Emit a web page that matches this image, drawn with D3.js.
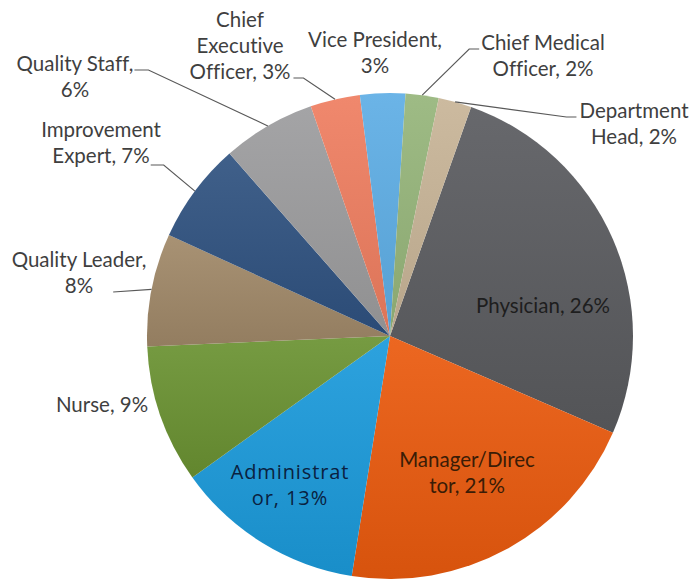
<!DOCTYPE html>
<html>
<head>
<meta charset="utf-8">
<script src="https://cdn.jsdelivr.net/npm/d3@7"></script>
<style>
  body { margin: 0; background: #fff; }
  svg { display: block; }
  .lbl { font-family: Lato, "Open Sans", sans-serif; font-size: 20.5px; fill: #3f3f3f; font-variant-ligatures: none; }
</style>
</head>
<body>
<div id="chart"></div>
<script>
// slices, clockwise from the top
const categories = ["Physician", "Manager/Director", "Administrator", "Nurse", "Quality Leader",
  "Improvement Expert", "Quality Staff", "Chief Executive Officer", "Vice President",
  "Chief Medical Officer", "Department Head"];
const values = [26.1, 21.0, 12.6, 9.2, 7.5, 6.7, 6.2, 3.3, 3.0, 2.2, 2.2];
const shownPct = [26, 21, 13, 9, 8, 7, 6, 3, 3, 2, 2];
const colors = ["#5a5b5f", "#ea5a0e", "#1b9adb", "#6a9232", "#a08868", "#2f5280",
  "#9c9c9e", "#ef7e60", "#5eaee5", "#96b57a", "#c8b497"];

const width = 691, height = 584;
const cx = 390, cy = 336, r = 243;
const startDeg = 19.5;

// label layout: offsets from pie center, line breaks, leader attach
const layout = {
  "Physician":               { x: 153, y: -23, breaks: [], inside: true, fill: "#1e1e1e" },
  "Manager/Director":        { x: 77, y: 131, breaks: [13], inside: true, fill: "#3a1c06" },
  "Administrator":           { x: -100, y: 143, breaks: [11], inside: true, fill: "#0a2140", big: true },
  "Nurse":                   { x: -288, y: 76, breaks: [] },
  "Quality Leader":          { x: -311, y: -69, breaks: [15], leader: { line: 1, side: "right", gap: 20, dy: -1, elbow: 0 } },
  "Improvement Expert":      { x: -289, y: -199, breaks: [11], leader: { line: 1, side: "right", gap: 1, dy: 2, elbow: 13 } },
  "Quality Staff":           { x: -315, y: -265, breaks: [14], leader: { line: 0, side: "right", gap: 1, dy: -1, elbow: 14 } },
  "Chief Executive Officer": { x: -150, y: -309, breaks: [5, 15], leader: { line: 2, side: "right", gap: 3, dy: -1, elbow: 10 } },
  "Vice President":          { x: -15, y: -289, breaks: [15] },
  "Chief Medical Officer":   { x: 153, y: -286, breaks: [13], leader: { line: 0, side: "left", gap: 2, dy: -1, elbow: 10 } },
  "Department Head":         { x: 244, y: -218, breaks: [10], leader: { line: 0, side: "left", gap: 3, dy: -1, elbow: 10 } }
};
const lineH = 26;

const data = categories.map((c, i) => ({ name: c, value: values[i], pct: shownPct[i], color: colors[i] }));

const svg = d3.select("#chart").append("svg")
  .attr("width", width).attr("height", height);

const defs = svg.append("defs");
data.forEach((d, i) => {
  const g = defs.append("linearGradient").attr("id", "grad" + i)
    .attr("x1", 0).attr("y1", 0).attr("x2", 0).attr("y2", 1);
  g.append("stop").attr("offset", "0%").attr("stop-color", d3.interpolateRgb(d.color, "#fff")(0.08));
  g.append("stop").attr("offset", "100%").attr("stop-color", d3.interpolateRgb(d.color, "#000")(0.08));
});

const rad = startDeg * Math.PI / 180;
const pie = d3.pie().value(d => d.value).sort(null)
  .startAngle(rad).endAngle(rad + 2 * Math.PI);
const arcs = pie(data);
const arc = d3.arc().innerRadius(0).outerRadius(r);

const g = svg.append("g").attr("transform", `translate(${cx},${cy})`);

g.selectAll("path.slice")
  .data(arcs)
  .join("path")
  .attr("class", "slice")
  .attr("d", arc)
  .attr("fill", (d, i) => `url(#grad${i})`);

// labels
const labels = g.append("g");
arcs.forEach(a => {
  const d = a.data;
  const L = layout[d.name];
  const full = `${d.name}, ${d.pct}%`;
  const cuts = [0, ...L.breaks, full.length];
  const lines = d3.pairs(cuts).map(([s, e]) => full.slice(s, e).trim());

  const t = labels.append("text")
    .attr("class", "lbl")
    .attr("text-anchor", "middle")
    .attr("x", L.x).attr("y", L.y);
  if (L.fill) t.style("fill", L.fill);
  if (L.big) t.style("font-family", "'Open Sans', sans-serif").style("font-size", "20px").style("letter-spacing", "0.9px");

  const spans = lines.map((ln, k) => t.append("tspan")
    .attr("x", L.x).attr("y", L.y + k * lineH).text(ln));

  if (L.leader) {
    const ld = L.leader;
    const w = spans[ld.line].node().getComputedTextLength();
    const ay = L.y + ld.line * lineH + ld.dy;
    const ax = ld.side === "right" ? L.x + w / 2 + ld.gap : L.x - w / 2 - ld.gap;
    const ex = ld.side === "right" ? ax + ld.elbow : ax - ld.elbow;
    const mid = (a.startAngle + a.endAngle) / 2;
    const px = Math.sin(mid) * r, py = -Math.cos(mid) * r;
    labels.append("path")
      .attr("d", d3.line()([[ax, ay], [ex, ay], [px, py]]))
      .attr("fill", "none")
      .attr("stroke", "#595959")
      .attr("stroke-width", 1.2);
  }
});
</script>
</body>
</html>
